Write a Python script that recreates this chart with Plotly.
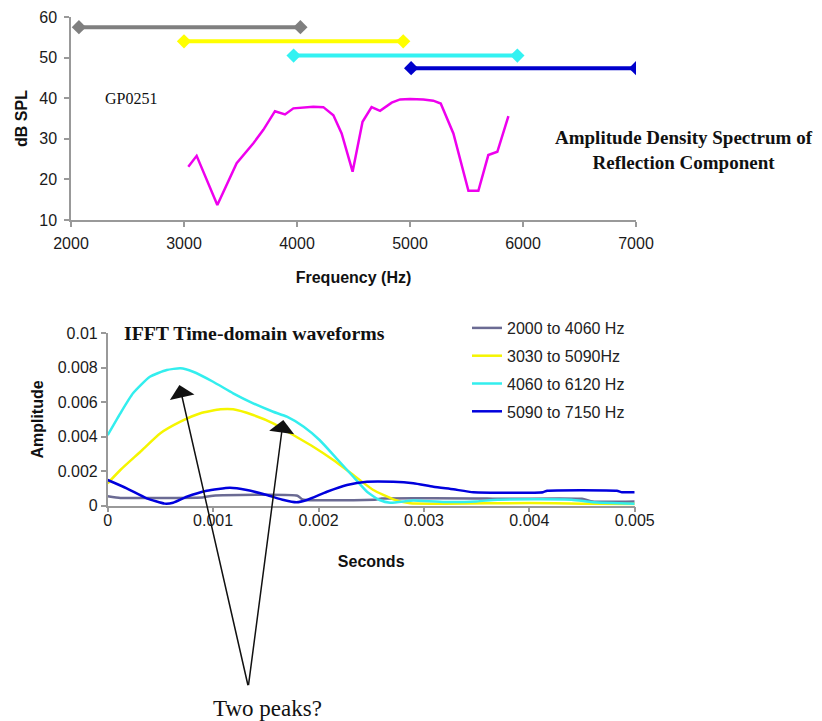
import plotly.graph_objects as go

# page body adds an 8 px offset; the figure fills the rest of the 822x721 window
OFF = 8
W, H = 822 - OFF, 721 - OFF

# ---------------- data: top chart ----------------
band_labels = ["2000 to 4060 Hz", "3030 to 5090Hz", "4060 to 6120 Hz", "5090 to 7150 Hz"]
band_start = [2070, 3000, 3970, 5010]
band_end = [4030, 4940, 5950, 7000]
band_level = [57.5, 54.0, 50.5, 47.4]

freq_hz = [3038, 3112, 3295, 3466, 3614, 3702, 3805, 3894, 3968, 4086, 4144, 4233,
           4322, 4395, 4492, 4580, 4660, 4735, 4838, 4912, 5000, 5118, 5206, 5272,
           5384, 5517, 5605, 5693, 5773, 5871]
spl_db = [23.1, 25.8, 13.7, 24.0, 28.9, 32.2, 36.8, 36.0, 37.5, 37.7, 37.9, 37.8,
          35.8, 31.3, 21.9, 34.2, 37.8, 36.9, 38.9, 39.7, 39.8, 39.7, 39.4, 38.7,
          31.3, 17.2, 17.2, 26.0, 26.8, 35.6]

freq_ticks = [2000, 3000, 4000, 5000, 6000, 7000]
spl_ticks = [10, 20, 30, 40, 50, 60]

# ---------------- data: bottom chart ----------------
t_2000 = [0, 0.00012, 0.00025, 0.0009, 0.001, 0.0018, 0.00185, 0.00255, 0.0026,
          0.0036, 0.0037, 0.0045, 0.0046, 0.005]
a_2000 = [0.00055, 0.00045, 0.00045, 0.00048, 0.00058, 0.00058, 0.00036, 0.00036,
          0.00042, 0.00042, 0.0004, 0.0004, 0.00024, 0.00024]

t_3030 = [0, 0.00012, 0.00031, 0.0005, 0.00069, 0.00088, 0.00107, 0.00119, 0.00138,
          0.00157, 0.00176, 0.00195, 0.00214, 0.00233, 0.00252, 0.00271, 0.00287,
          0.0032, 0.004, 0.0045, 0.005]
a_3030 = [0.0013, 0.00207, 0.00313, 0.0042, 0.00487, 0.00536, 0.00559, 0.00559,
          0.00526, 0.00478, 0.0041, 0.00342, 0.00265, 0.00178, 0.00091, 0.00037,
          0.00014, 0.00012, 0.00015, 0.00012, 0.0001]

t_4060 = [0, 0.00012, 0.00024, 0.0004, 0.00056, 0.00069, 0.00081, 0.001, 0.00119,
          0.00138, 0.00157, 0.0017, 0.00186, 0.00201, 0.00217, 0.00233, 0.00246,
          0.00258, 0.00268, 0.00284, 0.0029, 0.0032, 0.0035, 0.0037, 0.0044, 0.0046, 0.005]
a_4060 = [0.0041, 0.00536, 0.00652, 0.00748, 0.00787, 0.00797, 0.00777, 0.00719,
          0.00652, 0.00594, 0.00545, 0.00516, 0.00458, 0.00381, 0.00275, 0.00168,
          0.00081, 0.00033, 0.00017, 0.00027, 0.0003, 0.00022, 0.00025, 0.00035,
          0.00035, 0.0002, 0.00012]

t_5090 = [0, 0.00018, 0.00037, 0.00054, 0.00062, 0.00075, 0.00094, 0.00116, 0.00132,
          0.00151, 0.00167, 0.00179, 0.00189, 0.00208, 0.00227, 0.00246, 0.00271,
          0.0029, 0.00309, 0.00328, 0.00347, 0.00413, 0.00417, 0.00483, 0.00488, 0.005]
a_5090 = [0.00149, 0.00101, 0.00043, 0.00012, 0.00017, 0.00052, 0.00087, 0.00104,
          0.00091, 0.00062, 0.00033, 0.0002, 0.00033, 0.00081, 0.0012, 0.00139,
          0.00139, 0.0013, 0.0011, 0.00095, 0.00078, 0.00078, 0.00087, 0.00087,
          0.00078, 0.00078]

time_ticks = [0, 0.001, 0.002, 0.003, 0.004, 0.005]
time_labels = ["0", "0.001", "0.002", "0.003", "0.004", "0.005"]
amp_ticks = [0, 0.002, 0.004, 0.006, 0.008, 0.01]
amp_labels = ["0", "0.002", "0.004", "0.006", "0.008", "0.01"]

# arrows: tips on the waveforms, shared apex below the chart
arrow_tips = [(0.00068, 0.0070), (0.001666, 0.00497)]
arrow_apex = (0.001334, -0.0105)

# ---------------- styles ----------------
band_colors = ["#7f7f7f", "#ffff00", "#33f2f2", "#0000cc"]
wave_colors = ["#6b6b93", "#f5f500", "#33eeee", "#0000dd"]
SANS = "Liberation Sans, Arial, sans-serif"
SERIF = "Liberation Serif, Times New Roman, serif"
AXIS_COLOR = "#999999"


def px_x(p):
    return (p - OFF) / W


def px_y(p):
    return 1 - (p - OFF) / H


fig = go.Figure()

for lbl, s, e, lv, c in zip(band_labels, band_start, band_end, band_level, band_colors):
    fig.add_trace(go.Scatter(
        x=[s, e], y=[lv, lv], mode="lines+markers", xaxis="x", yaxis="y",
        line=dict(color=c, width=4), marker=dict(symbol="diamond", size=11, color=c),
        showlegend=False, name=lbl, hoverinfo="skip"))

fig.add_trace(go.Scatter(
    x=freq_hz, y=spl_db, mode="lines", xaxis="x", yaxis="y",
    line=dict(color="#ee00ee", width=2.5), showlegend=False, name="spectrum"))

waves = [(t_2000, a_2000), (t_3030, a_3030), (t_4060, a_4060), (t_5090, a_5090)]
for i, ((tt, aa), lbl, c) in enumerate(zip(waves, band_labels, wave_colors)):
    fig.add_trace(go.Scatter(
        x=tt, y=aa, mode="lines", xaxis="x2", yaxis="y2", name=lbl,
        legendgroup=f"g{i}",
        line=dict(color=c, width=2.5, shape="spline", smoothing=0.5)))

axis_common = dict(showgrid=False, zeroline=False, showline=True, linecolor=AXIS_COLOR,
                   linewidth=1.5, ticks="outside", tickcolor=AXIS_COLOR,
                   tickwidth=1.5, automargin=False,
                   tickfont=dict(family=SANS, size=16, color="#1a1a1a"))
title_font = dict(family=SANS, size=16, color="#111")

fig.update_layout(
    width=W, height=H, margin=dict(l=0, r=0, t=0, b=0, autoexpand=False),
    paper_bgcolor="white", plot_bgcolor="white",
    xaxis=dict(domain=[px_x(71), px_x(636)], range=[2000, 7000], anchor="y",
               tickvals=freq_ticks, ticklen=5, ticklabelstandoff=3,
               title=dict(text="<b>Frequency (Hz)</b>", font=title_font, standoff=21),
               **axis_common),
    yaxis=dict(domain=[px_y(220), px_y(17)], range=[10, 60], anchor="x",
               tickvals=spl_ticks, ticklen=5, ticklabelstandoff=4,
               title=dict(text="<b>dB SPL</b>", font=title_font, standoff=8),
               **axis_common),
    xaxis2=dict(domain=[px_x(107.7), px_x(634.7)], range=[0, 0.005], anchor="y2",
                tickvals=time_ticks, ticktext=time_labels, ticklen=5, ticklabelstandoff=-6,
                title=dict(text="<b>Seconds</b>", font=title_font, standoff=28),
                **axis_common),
    yaxis2=dict(domain=[px_y(505.7), px_y(333.3)], range=[0, 0.01], anchor="x2",
                tickvals=amp_ticks, ticktext=amp_labels, ticklen=5,
                title=dict(text="<b>Amplitude</b>", font=title_font, standoff=10),
                **axis_common),
    legend=dict(x=px_x(467), y=px_y(311), xanchor="left", yanchor="top",
                font=dict(family=SANS, size=16, color="#222"),
                traceorder="grouped", tracegroupgap=4, bgcolor="rgba(0,0,0,0)"),
    showlegend=True,
)

annotations = [
    dict(text="GP0251", x=px_x(103), y=px_y(99), xref="paper", yref="paper",
         xanchor="left", yanchor="middle", showarrow=False,
         font=dict(family=SERIF, size=16, color="#111")),
    dict(text="<b>Amplitude Density Spectrum of<br>Reflection Component</b>",
         x=px_x(684), y=px_y(149.5), xref="paper", yref="paper",
         xanchor="center", yanchor="middle", showarrow=False,
         font=dict(family=SERIF, size=19, color="#111")),
    dict(text="<b>IFFT Time-domain waveforms</b>", x=px_x(122), y=px_y(333),
         xref="paper", yref="paper", xanchor="left", yanchor="middle", showarrow=False,
         font=dict(family=SERIF, size=19.8, color="#111")),
    dict(text="Two peaks?", x=px_x(267), y=px_y(708), xref="paper", yref="paper",
         xanchor="center", yanchor="middle", showarrow=False,
         font=dict(family=SERIF, size=23, color="#111")),
]
for tx, ty in arrow_tips:
    annotations.append(dict(
        text="", x=tx, y=ty, xref="x2", yref="y2", ax=arrow_apex[0], ay=arrow_apex[1],
        axref="x2", ayref="y2", showarrow=True, arrowhead=1, arrowsize=2.8,
        arrowwidth=1.5, arrowcolor="#111111", standoff=0, startstandoff=0))
fig.update_layout(annotations=annotations)

fig.write_html("out.html")
